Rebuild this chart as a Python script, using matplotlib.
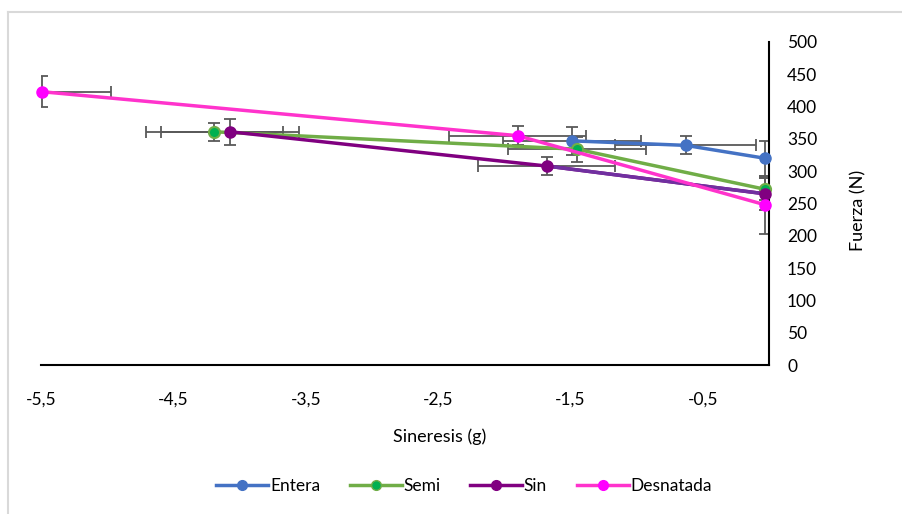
import numpy as np
import matplotlib.pyplot as plt
from matplotlib.lines import Line2D

plt.rcParams['font.family'] = ['Lato', 'DejaVu Sans']
plt.rcParams['font.size'] = 12

# Sineresis (g) / Fuerza (N), with error bars
entera_x = [-1.49, -0.63, -0.03]
entera_y = [347, 340, 320]
entera_xerr = [0.52, 0.53, 0.0]
entera_yerr = [22, 14, 27]

semi_x = [-4.19, -1.45, -0.03]
semi_y = [361, 334, 272]
semi_xerr = [0.52, 0.52, 0.0]
semi_yerr = [14, 19, 17]

sin_x = [-4.07, -1.68, -0.03]
sin_y = [361, 308, 265]
sin_xerr = [0.52, 0.52, 0.0]
sin_yerr = [20, 14, 25]

desn_x = [-5.49, -1.90, -0.03]
desn_y = [423, 355, 248]
desn_xerr = [0.52, 0.52, 0.0]
desn_yerr = [24, 15, 45]

x_ticks = [-5.5, -4.5, -3.5, -2.5, -1.5, -0.5]
y_ticks = [0, 50, 100, 150, 200, 250, 300, 350, 400, 450, 500]

W, H = 903, 514
fig = plt.figure(figsize=(W / 100, H / 100), dpi=100)
ax = fig.add_axes([41 / W, 1 - 365 / H, 728 / W, 323 / H])

err_kw = dict(fmt='none', ecolor='#595959', elinewidth=1.3, capsize=4, capthick=1.3, zorder=2)
for xs, ys, xe, ye in [(entera_x, entera_y, entera_xerr, entera_yerr),
                       (semi_x, semi_y, semi_xerr, semi_yerr),
                       (sin_x, sin_y, sin_xerr, sin_yerr),
                       (desn_x, desn_y, desn_xerr, desn_yerr)]:
    ax.errorbar(xs, ys, xerr=xe, yerr=ye, **err_kw)

ax.plot(entera_x, entera_y, color='#4472C4', lw=2.5, marker='o', ms=8,
        mfc='#4472C4', mec='#4472C4', zorder=3, clip_on=False)
ax.plot(semi_x, semi_y, color='#70AD47', lw=2.5, marker='o', ms=8,
        mfc='#00B050', mec='#70AD47', mew=1.5, zorder=3, clip_on=False)
ax.plot(sin_x, sin_y, color='#800080', lw=2.5, zorder=3, clip_on=False)
ax.plot(sin_x[1:], sin_y[1:], color='#7030A0', lw=2.5, zorder=3, clip_on=False)
ax.plot(sin_x, sin_y, ls='none', marker='o', ms=8, mfc='#800080', mec='#800080',
        zorder=4, clip_on=False)
ax.plot(desn_x, desn_y, color='#FF33CC', lw=2.5, marker='o', ms=8,
        mfc='#FF00FF', mec='#FF00FF', zorder=5, clip_on=False)

ax.set_xlim(-5.5, 0)
ax.set_ylim(0, 500)
ax.set_xticks(x_ticks)
ax.set_xticklabels([f'{v:.1f}'.replace('.', ',') for v in x_ticks])
ax.set_yticks(y_ticks)
ax.yaxis.tick_right()
ax.tick_params(axis='both', length=0, labelsize=12.5, colors='#000000')
ax.tick_params(axis='x', pad=19)
ax.tick_params(axis='y', pad=13)
for lab in ax.get_yticklabels():
    lab.set_horizontalalignment('left')
for s in ['top', 'left']:
    ax.spines[s].set_visible(False)
for s in ['right', 'bottom']:
    ax.spines[s].set_linewidth(1.5)
    ax.spines[s].set_color('#000000')

fig.text(440 / W, 1 - 437 / H, 'Sineresis (g)', ha='center', va='center', fontsize=13)
fig.text(858 / W, 1 - 210 / H, 'Fuerza (N)', ha='center', va='center', fontsize=13, rotation=90)

handles = [
    Line2D([], [], color='#4472C4', lw=2.5, marker='o', ms=7, mfc='#4472C4', mec='#4472C4'),
    Line2D([], [], color='#70AD47', lw=2.5, marker='o', ms=7, mfc='#00B050', mec='#70AD47'),
    Line2D([], [], color='#800080', lw=2.5, marker='o', ms=7, mfc='#800080', mec='#800080'),
    Line2D([], [], color='#FF33CC', lw=2.5, marker='o', ms=7, mfc='#FF00FF', mec='#FF00FF'),
]
fig.legend(handles, ['Entera', 'Semi', 'Sin', 'Desnatada'], loc='center',
           bbox_to_anchor=(464 / W, 1 - 486 / H), ncol=4, frameon=False,
           fontsize=12.5, handlelength=3.0, handletextpad=0.1, columnspacing=1.7)

# chart area border (top and left visible)
fig.add_artist(Line2D([8 / W, 8 / W], [0, 1 - 12 / H], color='#D9D9D9', lw=1.5))
fig.add_artist(Line2D([8 / W, 1], [1 - 12 / H, 1 - 12 / H], color='#D9D9D9', lw=1.5))

fig.savefig('out.png', dpi=100)
